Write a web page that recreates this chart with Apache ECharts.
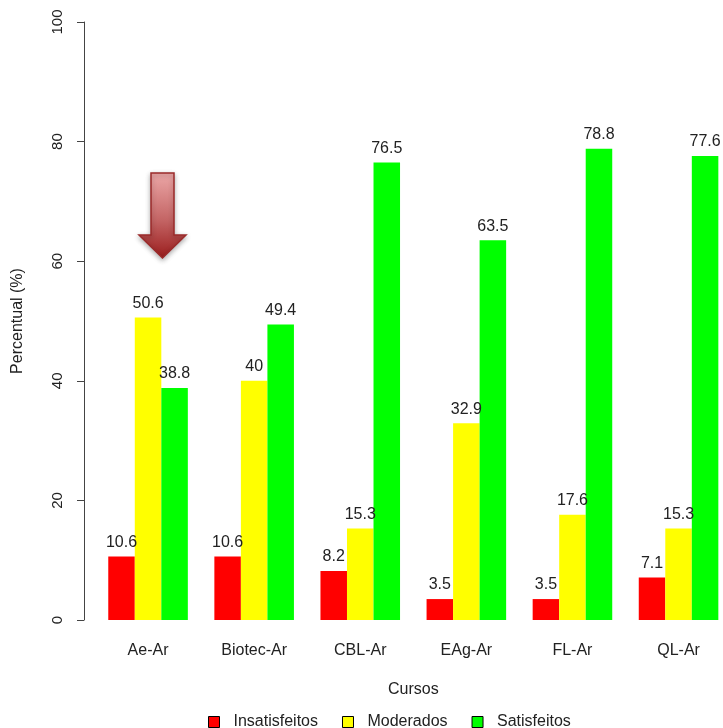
<!DOCTYPE html>
<html>
<head>
<meta charset="utf-8">
<script src="https://cdn.jsdelivr.net/npm/echarts@6/dist/echarts.min.js"></script>
<style>
html,body{margin:0;padding:0;background:#fff;}
#chart{width:723px;height:728px;}
</style>
</head>
<body>
<div id="chart"></div>
<script>
var categories = ['Ae-Ar', 'Biotec-Ar', 'CBL-Ar', 'EAg-Ar', 'FL-Ar', 'QL-Ar'];
var insatisfeitos = [10.6, 10.6, 8.2, 3.5, 3.5, 7.1];
var moderados = [50.6, 40, 15.3, 32.9, 17.6, 15.3];
var satisfeitos = [38.8, 49.4, 76.5, 63.5, 78.8, 77.6];
var seriesNames = ['Insatisfeitos', 'Moderados', 'Satisfeitos'];
var yTicks = [0, 20, 40, 60, 80, 100];

var FONT = 'Liberation Sans, Arial, sans-serif';
var chart = echarts.init(document.getElementById('chart'), null, {renderer: 'canvas'});

function mkSeries(name, data, color) {
  return {
    name: name,
    type: 'bar',
    data: data,
    barGap: '0%',
    barCategoryGap: '25%',
    itemStyle: {color: color},
    label: {
      show: true,
      position: 'top',
      distance: 6,
      color: '#222',
      fontFamily: FONT,
      fontSize: 16,
      formatter: function (p) { return String(p.value); }
    }
  };
}

chart.setOption({
  animation: false,
  backgroundColor: '#fff',
  grid: {left: 95, top: 22, width: 636.6, height: 598, containLabel: false, outerBoundsMode: 'none'},
  legend: {
    data: seriesNames,
    left: 203,
    top: 709,
    icon: 'rect',
    itemWidth: 11,
    itemHeight: 11,
    itemGap: 24,
    itemStyle: {borderColor: '#000', borderWidth: 1},
    textStyle: {fontFamily: FONT, fontSize: 16, color: '#222', padding: [0, 0, 0, 9]}
  },
  xAxis: {
    type: 'category',
    data: categories,
    axisLine: {show: false},
    axisTick: {show: false},
    axisLabel: {margin: 23, fontFamily: FONT, fontSize: 16, color: '#222'},
    name: 'Cursos',
    nameLocation: 'middle',
    nameGap: 62,
    nameTextStyle: {fontFamily: FONT, fontSize: 16, color: '#222'}
  },
  yAxis: {
    type: 'value',
    min: yTicks[0],
    max: yTicks[yTicks.length - 1],
    interval: 20,
    offset: 11,
    axisLine: {show: true, lineStyle: {color: '#444', width: 1}},
    axisTick: {show: true, length: 7, lineStyle: {color: '#444'}},
    splitLine: {show: false},
    axisLabel: {rotate: 90, margin: 19, fontFamily: FONT, fontSize: 15, color: '#222'},
    name: 'Percentual (%)',
    nameLocation: 'middle',
    nameRotate: 90,
    nameGap: 58,
    nameTextStyle: {fontFamily: FONT, fontSize: 16, color: '#222'}
  },
  series: [
    mkSeries(seriesNames[0], insatisfeitos, '#ff0000'),
    mkSeries(seriesNames[1], moderados, '#ffff00'),
    mkSeries(seriesNames[2], satisfeitos, '#00ff00')
  ],
  graphic: [{
    type: 'polygon',
    shape: {points: [[151, 173], [174, 173], [174, 235], [186, 235], [162.5, 258], [139, 235], [151, 235]]},
    style: {
      fill: new echarts.graphic.LinearGradient(0, 0, 0, 1, [
        {offset: 0, color: '#eca8a8'},
        {offset: 0.55, color: '#c46565'},
        {offset: 1, color: '#9a1c1c'}
      ]),
      stroke: '#9b2a2a',
      lineWidth: 1.5,
      shadowBlur: 5,
      shadowColor: 'rgba(0,0,0,0.3)',
      shadowOffsetY: 2
    },
    z: 100
  }]
});
</script>
</body>
</html>
